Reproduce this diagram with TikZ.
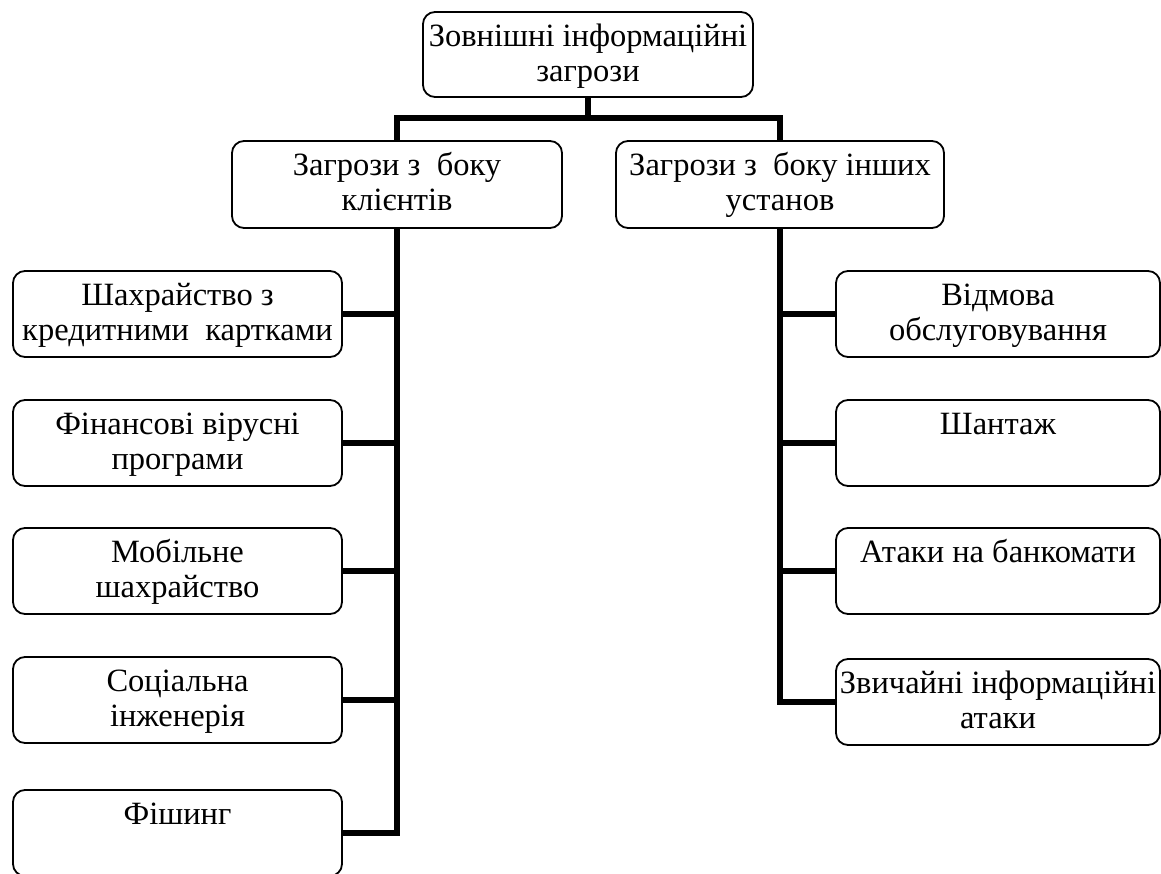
\documentclass[tikz,border=0pt]{standalone}
\usepackage{fontspec}
\setmainfont{Liberation Serif}
\begin{document}
\begin{tikzpicture}[x=1pt,y=-1pt,
 box/.style={draw, rounded corners=12pt, line width=1.8pt, minimum width=330pt, minimum height=86pt, inner sep=0pt},
 lbox/.style={box, minimum width=329pt},
 rbox/.style={box, minimum width=324pt},
 lbl/.style={anchor=north, inner sep=0pt, align=center, font=\fontsize{32.5}{35}\selectfont},
 conn/.style={line width=6.5pt, line join=miter}]
\useasboundingbox (0,0) rectangle (1161,874);
% top
\node[box, minimum height=85pt] (top) at (588,54.5) {};
\node[lbl] (topT) at ([yshift=-11pt]top.north) {\strut Зовнішні інформаційні\\загрози};
% middle
\node[box, minimum height=87pt] (lmid) at (397,184.5) {};
\node[lbl] (lmidT) at ([yshift=-11pt]lmid.north) {\strut Загрози з\ \ боку\\клієнтів};
\node[box, minimum width=328pt, minimum height=87pt] (rmid) at (780,184.5) {};
\node[lbl] (rmidT) at ([yshift=-11pt]rmid.north) {\strut Загрози з\ \ боку інших\\установ};
% left column
\node[lbox] (l1) at (177.5,314) {};
\node[lbl] (l1T) at ([yshift=-11pt]l1.north) {\strut Шахрайство з\\кредитними\ \ картками};
\node[lbox] (l2) at (177.5,443) {};
\node[lbl] (l2T) at ([yshift=-11pt]l2.north) {\strut Фінансові вірусні\\програми};
\node[lbox] (l3) at (177.5,571) {};
\node[lbl] (l3T) at ([yshift=-11pt]l3.north) {\strut Мобільне\\шахрайство};
\node[lbox] (l4) at (177.5,700) {};
\node[lbl] (l4T) at ([yshift=-11pt]l4.north) {\strut Соціальна\\інженерія};
\node[lbox] (l5) at (177.5,833) {};
\node[lbl] (l5T) at ([yshift=-11pt]l5.north) {\strut Фішинг};
% right column
\node[rbox] (r1) at (998,314) {};
\node[lbl] (r1T) at ([yshift=-11pt]r1.north) {\strut Відмова\\обслуговування};
\node[rbox] (r2) at (998,443) {};
\node[lbl] (r2T) at ([yshift=-11pt]r2.north) {\strut Шантаж};
\node[rbox] (r3) at (998,571) {};
\node[lbl] (r3T) at ([yshift=-11pt]r3.north) {\strut Атаки на банкомати};
\node[rbox] (r4) at (998,702) {};
\node[lbl] (r4T) at ([yshift=-11pt]r4.north) {\strut Звичайні інформаційні\\атаки};
% connectors
\draw[conn] (top.south) -- ++(0,22);
\draw[conn] (lmid.north) -- ++(0,-22) -| (rmid.north);
\draw[conn] (lmid.south) |- (l5.east);
\draw[conn] (rmid.south) |- (r4.west);
\foreach \n in {l1,l2,l3,l4} \draw[conn] (\n.east) -- (\n.east -| lmid.south);
\foreach \n in {r1,r2,r3} \draw[conn] (\n.west) -- (\n.west -| rmid.south);
\end{tikzpicture}
\end{document}
